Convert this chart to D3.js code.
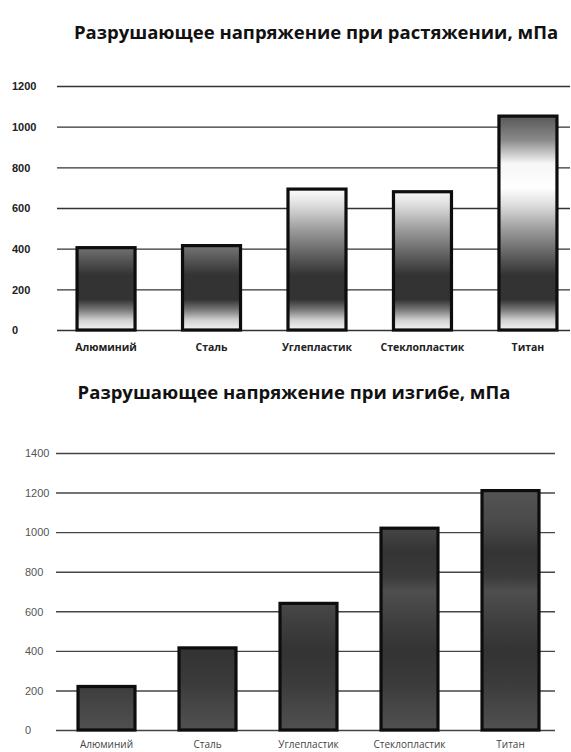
<!DOCTYPE html>
<html>
<head>
<meta charset="utf-8">
<script src="https://cdn.jsdelivr.net/npm/d3@7"></script>
<style>
  html, body { margin: 0; padding: 0; background: #fff; }
  svg { display: block; font-family: "Open Sans", "DejaVu Sans", sans-serif; }
</style>
</head>
<body>
<svg id="chart" width="571" height="752"></svg>
<script>
// Materials shown on both charts
const categories = ["Алюминий", "Сталь", "Углепластик", "Стеклопластик", "Титан"];

// Ultimate tensile strength, MPa
const tensileValues = [405, 415, 693, 680, 1052];
const tensileTicks = [0, 200, 400, 600, 800, 1000, 1200];
const tensileTitle = "Разрушающее напряжение при растяжении, мПа";

// Ultimate flexural strength, MPa
const flexuralValues = [220, 415, 640, 1020, 1210];
const flexuralTicks = [0, 200, 400, 600, 800, 1000, 1200, 1400];
const flexuralTitle = "Разрушающее напряжение при изгибе, мПа";

const svg = d3.select("#chart");
const defs = svg.append("defs");

// Build a vertical gradient whose stops are given in value units,
// so every bar in the panel shares the same bands.
function valueGradient(id, y, stops) {
  const [y0, y1] = [y(y.domain()[1]), y(0)];
  const g = defs.append("linearGradient")
    .attr("id", id)
    .attr("gradientUnits", "userSpaceOnUse")
    .attr("x1", 0).attr("x2", 0)
    .attr("y1", y0).attr("y2", y1);
  stops.forEach(([v, c]) => {
    g.append("stop")
      .attr("offset", ((y(v) - y0) / (y1 - y0)))
      .attr("stop-color", c);
  });
  return `url(#${id})`;
}

function drawPanel(cfg) {
  const g = svg.append("g");
  const x = d3.scaleBand().domain(categories)
    .range(cfg.xRange).paddingInner(cfg.padIn).paddingOuter(cfg.padOut);
  const y = d3.scaleLinear().domain([0, d3.max(cfg.ticks)]).range(cfg.yRange);

  g.append("text")
    .attr("x", cfg.titleX).attr("y", cfg.titleY)
    .attr("text-anchor", "middle")
    .attr("font-size", cfg.titleSize).attr("font-weight", 700)
    .attr("fill", "#111")
    .text(cfg.title);

  // grid lines with value labels at the left
  const axis = d3.axisLeft(y).tickValues(cfg.ticks).tickFormat(d3.format("d"))
    .tickSize(-(cfg.gridEnd - cfg.gridStart)).tickPadding(0);
  const ag = g.append("g").attr("transform", `translate(${cfg.gridStart},0)`).call(axis);
  ag.select(".domain").remove();
  ag.selectAll(".tick line")
    .attr("stroke", cfg.gridColor).attr("stroke-width", 1.4);
  ag.selectAll(".tick text")
    .attr("x", cfg.labelX - cfg.gridStart)
    .attr("text-anchor", "start")
    .attr("dy", "0.34em")
    .attr("font-size", cfg.tickSize)
    .attr("font-weight", cfg.tickWeight)
    .attr("fill", cfg.tickColor);

  const fill = valueGradient(cfg.id, y, cfg.stops);
  g.selectAll("rect.bar").data(cfg.values).join("rect")
    .attr("class", "bar")
    .attr("x", (d, i) => x(categories[i]))
    .attr("width", x.bandwidth())
    .attr("y", d => y(d))
    .attr("height", d => y(0) - y(d))
    .attr("fill", fill)
    .attr("stroke", "#0d0d0d")
    .attr("stroke-width", 3.2);

  g.selectAll("text.cat").data(categories).join("text")
    .attr("class", "cat")
    .attr("x", d => x(d) + x.bandwidth() / 2)
    .attr("y", cfg.catY)
    .attr("text-anchor", "middle")
    .attr("font-size", cfg.catSize)
    .attr("font-weight", cfg.catWeight)
    .attr("fill", cfg.catColor)
    .text(d => d);
}

drawPanel({
  id: "gradTensile",
  title: tensileTitle, titleX: 316, titleY: 39, titleSize: 18.5,
  values: tensileValues, ticks: tensileTicks,
  xRange: [57, 577], padIn: 0.45, padOut: 0.19,
  yRange: [330, 86],
  gridStart: 57, gridEnd: 570, gridColor: "#333",
  labelX: 12, tickSize: 11, tickWeight: 700, tickColor: "#222",
  catY: 351, catSize: 10.5, catWeight: 700, catColor: "#222",
  stops: [
    [1200, "#444"], [1057, "#555"], [934, "#8a8a8a"], [820, "#f6f6f6"],
    [700, "#ffffff"], [620, "#e0e0e0"], [490, "#9a9a9a"], [345, "#555"],
    [270, "#333"], [150, "#333"], [100, "#777"], [50, "#cfcfcf"], [0, "#f5f5f5"]
  ]
});

drawPanel({
  id: "gradFlexural",
  title: flexuralTitle, titleX: 294, titleY: 399, titleSize: 18.5,
  values: flexuralValues, ticks: flexuralTicks,
  xRange: [56, 561], padIn: 0.436, padOut: 0.218,
  yRange: [730, 453],
  gridStart: 56, gridEnd: 555, gridColor: "#444",
  labelX: 25, tickSize: 11, tickWeight: 400, tickColor: "#555",
  catY: 748, catSize: 10, catWeight: 400, catColor: "#444",
  stops: [
    [1400, "#555"], [1200, "#535353"], [1050, "#4a4a4a"], [900, "#343434"],
    [780, "#3a3a3a"], [700, "#4e4e4e"], [560, "#404040"], [400, "#333"],
    [250, "#3a3a3a"], [100, "#484848"], [0, "#505050"]
  ]
});
</script>
</body>
</html>
